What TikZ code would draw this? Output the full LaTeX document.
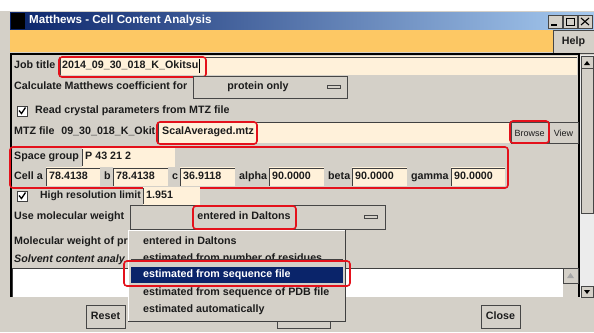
\documentclass[tikz,border=0pt]{standalone}
\usepackage{fontspec}
\setmainfont{Liberation Sans}
\usetikzlibrary{positioning}

\definecolor{winbg}{HTML}{D4D0C8}
\definecolor{cream}{HTML}{FFF1DA}
\definecolor{menuorange}{HTML}{FDC864}
\definecolor{navy}{HTML}{0A246A}
\definecolor{skyblue}{HTML}{A6CAF0}
\definecolor{annot}{HTML}{E4111B}
\definecolor{darkedge}{HTML}{404040}
\definecolor{labeltext}{HTML}{1C1C1C}

\begin{document}
\begin{tikzpicture}[x=1pt,y=-1pt,
    lbl/.style={anchor=west, inner sep=0pt, text=labeltext,
        text height=7.6pt, text depth=2.2pt,
        font=\bfseries\fontsize{10.7}{12}\selectfont},
    btn/.style={fill=winbg, draw=gray!55!black, line width=0.8pt},
    sunk/.style={draw=darkedge, line width=0.9pt},
    redbox/.style={draw=annot, line width=1.6pt, rounded corners=3pt},
    tickbox/.style={fill=white, draw=darkedge, line width=0.8pt}]

    \useasboundingbox (0,0) rectangle (594,332);

    % Background of the screen shot
    \fill[white] (0,0) rectangle (594,11);
    \fill[winbg] (0,11) rectangle (594,332);

    % Title bar
    \shade[left color=navy, right color=skyblue] (10,12) rectangle (594,30);
    \fill[black] (11,13) rectangle (25,29);
    \node[lbl, text=white, font=\bfseries\fontsize{11.6}{13}\selectfont]
        (title) at (29,21) {Matthews - Cell Content Analysis};

    % Window buttons
    \draw[btn] (548,15) rectangle (562,28);
    \draw[btn] (563,15) rectangle (577,28);
    \draw[btn] (578,15) rectangle (592,28);
    \draw[black, line width=1.2pt] (551,25) -- (557,25);
    \draw[black, line width=0.9pt] (566,18) rectangle (574,25);
    \draw[black, line width=1.1pt] (581,18) -- (589,25) (581,25) -- (589,18);

    % Menu bar and Help button
    \fill[menuorange] (10,30) rectangle (553,52);
    \draw[btn] (553,30) rectangle (594,53);
    \node[lbl, anchor=center] (help) at (573.5,42) {Help};

    % Main panel frame
    \draw[black, line width=1.5pt] (11,297) -- (11,54) -- (579,54) -- (579,297);

    % Job title row
    \fill[cream] (60,56) rectangle (577,75);
    \draw[sunk] (60,75) -- (60,57) -- (577,57);
    \node[lbl] (joblab) at (14,66) {Job title};
    \node[lbl] (jobval) at (62,66) {2014\_09\_30\_018\_K\_Okitsu};
    \draw[black, line width=0.8pt] ([xshift=1pt]jobval.east) ++(0,-7) -- ++(0,14);
    \draw[redbox] (59,57) rectangle (206,77);

    % Matthews coefficient row
    \node[lbl] (calclab) at (14,87) {Calculate Matthews coefficient for};
    \draw[btn] (193,76) rectangle (347,98);
    \node[lbl, anchor=center] (calcval) at (258,87) {protein only};
    \draw[btn] (327,85) rectangle (340,88);

    % Read crystal parameters
    \draw[tickbox] (17,106) rectangle (27,116);
    \draw[black, line width=1.3pt] (19,110.5) -- (21.5,113.5) -- (25.5,107.5);
    \node[lbl] (readlab) at (35,111) {Read crystal parameters from MTZ file};

    % MTZ file row
    \node[lbl] (mtzlab) at (14,132) {MTZ file};
    \begin{scope}
        \clip (58,122) rectangle (157,143);
        \node[lbl, anchor=east] (mtzold) at (168,132) {09\_30\_018\_K\_Okitsu};
    \end{scope}
    \fill[cream] (158,122) rectangle (510,143);
    \draw[sunk] (158,143) -- (158,122) -- (510,122);
    \node[lbl] (mtzval) at (162,132) {ScalAveraged.mtz};
    \draw[redbox] (157,122) rectangle (257,144);
    \draw[btn] (511,122) rectangle (548,143);
    \node[anchor=center, inner sep=0pt, font=\fontsize{9}{10}\selectfont,
        text=labeltext] (browse) at (529.5,133) {Browse};
    \draw[btn] (549,122) rectangle (578,143);
    \node[anchor=center, inner sep=0pt, font=\fontsize{9}{10}\selectfont,
        text=labeltext] (view) at (563.5,133) {View};
    \draw[redbox] (510,121) rectangle (549,143);

    % Space group row
    \node[lbl] (sglab) at (14,157) {Space group};
    \fill[cream] (82,148) rectangle (175,167);
    \draw[sunk] (82,166) -- (82,149);
    \node[lbl] (sgval) at (85,157) {P 43 21 2};

    % Cell parameters row
    \foreach \lx/\fa/\fb/\txt/\val in {14/46/100/Cell a/78.4138,
            104/113/168/b/78.4138, 172/180/235/c/36.9118,
            239/269/324/alpha/90.0000, 328/352/407/beta/90.0000,
            411/451/505/gamma/90.0000} {
        \node[lbl] (cl\fa) at (\lx,177) {\txt};
        \fill[cream] (\fa,167) rectangle (\fb,186);
        \draw[sunk] (\fa,186) -- (\fa,168) -- (\fb,168);
        \node[lbl] (cv\fa) at (\fa+3,177) {\val};
    }
    \draw[redbox] (10,147) rectangle (508,188);

    % High resolution limit
    \draw[tickbox] (17,191) rectangle (27,201);
    \draw[black, line width=1.3pt] (19,195.5) -- (21.5,198.5) -- (25.5,192.5);
    \node[lbl, font=\bfseries\fontsize{10.4}{12}\selectfont]
        (reslab) at (40,196) {High resolution limit};
    \fill[cream] (143,187) rectangle (200,205);
    \draw[sunk] (143,204) -- (143,188);
    \node[lbl] (resval) at (146,196) {1.951};

    % Molecular weight selector
    \node[lbl] (mwlab) at (14,217) {Use molecular weight};
    \draw[btn] (130,205) rectangle (385,229);
    \node[lbl, anchor=center] (mwval) at (244,217) {entered in Daltons};
    \draw[btn] (364,215) rectangle (377,218);
    \draw[redbox] (193,206) rectangle (296,229);

    % Rows behind the drop down list
    \begin{scope}
        \clip (12,233) rectangle (128,266);
        \node[lbl] (mwplab) at (14,242) {Molecular weight of pr};
        \node[lbl, font=\bfseries\itshape\fontsize{10.7}{12}\selectfont]
            (solvlab) at (14,260) {Solvent content analy};
    \end{scope}
    \fill[white] (12,268) rectangle (563,297);
    \draw[sunk] (12,297) -- (12,268) -- (563,268);
    \draw[btn] (563,268) rectangle (578,283);
    \fill[gray!70] (567,278) -- (574,278) -- (570.5,273) -- cycle;

    % Right scroll bar
    \fill[gray!15] (580,55) rectangle (594,298);
    \draw[btn] (581,56) rectangle (593,68);
    \fill[black] (584,65) -- (590,65) -- (587,61) -- cycle;
    \draw[btn] (581,68) rectangle (593,213);
    \draw[btn] (581,286) rectangle (593,297);
    \fill[black] (584,290) -- (590,290) -- (587,294) -- cycle;

    % Bottom buttons
    \draw[btn] (86,305) rectangle (125,328);
    \node[lbl, anchor=center] (reset) at (105.5,317) {Reset};
    \draw[btn] (277,305) rectangle (330,328);
    \draw[btn] (481,305) rectangle (520,328);
    \node[lbl, anchor=center] (close) at (500.5,317) {Close};

    % Drop down list
    \fill[winbg] (128,230) rectangle (345,321);
    \draw[white, line width=1pt] (128,321) -- (128,230) -- (345,230);
    \draw[darkedge, line width=1pt] (128,321) -- (345,321) -- (345,230);
    \fill[navy] (131,267) rectangle (343,283);
    \node[lbl] (opt1) at (143,242) {entered in Daltons};
    \node[lbl] (opt2) at (143,259) {estimated from number of residues};
    \draw[darkedge, line width=0.8pt] (131,259) -- (343,259);
    \node[lbl, text=white] (opt3) at (143,275) {estimated from sequence file};
    \node[lbl] (opt4) at (143,293) {estimated from sequence of PDB file};
    \node[lbl] (opt5) at (143,310) {estimated automatically};
    \draw[redbox] (124,261) rectangle (350,286);

\end{tikzpicture}
\end{document}
